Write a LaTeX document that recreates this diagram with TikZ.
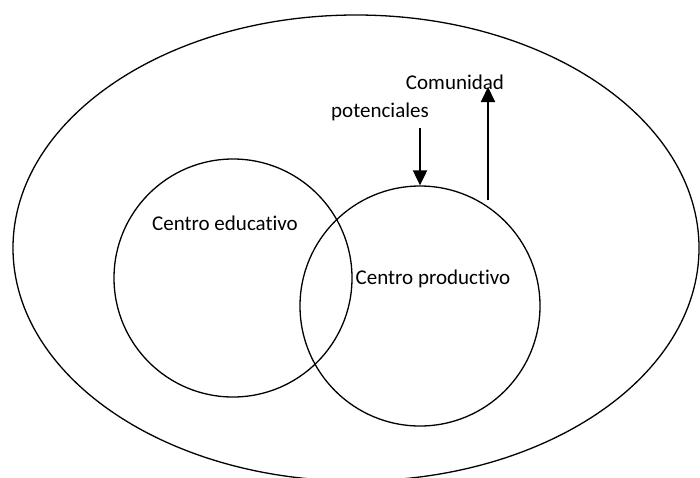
\documentclass[tikz,border=0pt]{standalone}
\usepackage{fontspec}
\setmainfont[Ligatures={NoCommon,NoDiscretionary}]{Carlito}
\usetikzlibrary{arrows.meta}
\begin{document}
\begin{tikzpicture}[x=1pt,y=-1pt,
  shape line/.style={line width=1.3pt},
  lbl/.style={font=\fontsize{21}{25}\selectfont, inner sep=0pt},
  flow/.style={line width=2pt, -{Triangle[length=15pt,width=14pt]}}]
\useasboundingbox (0,0) rectangle (700,477);
\draw[shape line] (356,248) ellipse [x radius=343, y radius=233];
\node[shape line, draw, circle, minimum size=238pt, inner sep=0pt] (edu) at (233,278) {};
\node[shape line, draw, circle, minimum size=240pt, inner sep=0pt] (prod) at (420,306) {};
\node[lbl] (tedu) at (225,223) {Centro educativo};
\node[lbl] (tprod) at (433,279) {Centro productivo};
\node[lbl] (com) at (455,82) {Comunidad};
\node[lbl] (pot) at (380,112) {potenciales};
\coordinate (pin) at (420,128);
\coordinate (pout) at (488,200);
\coordinate (ctop) at (488,87);
\draw[flow] (pin) -- (prod.north);
\draw[flow] (pout) -- (ctop);
\end{tikzpicture}
\end{document}
